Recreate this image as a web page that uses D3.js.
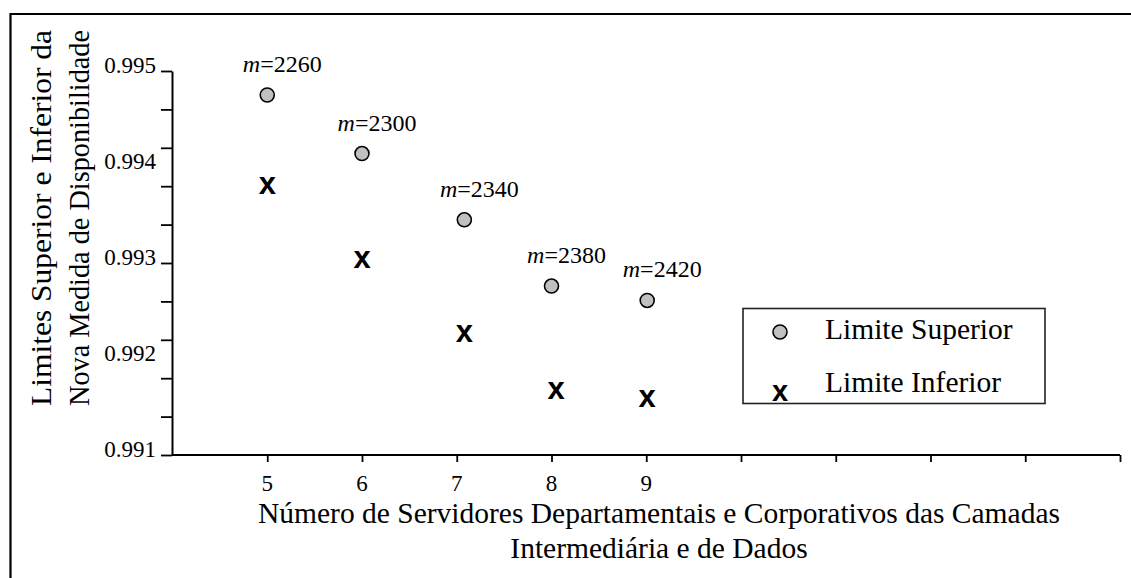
<!DOCTYPE html>
<html>
<head>
<meta charset="utf-8">
<script src="https://cdn.jsdelivr.net/npm/d3@7"></script>
<style>
  html, body { margin: 0; padding: 0; background: #fff; }
  svg { display: block; }
  text { font-family: "Liberation Serif", "Times New Roman", serif; fill: #000; }
</style>
</head>
<body>
<svg id="chart" width="1131" height="578"></svg>
<script>
// ---- data ----
const mLabels = ["2260", "2300", "2340", "2380", "2420"];
const supX = [5, 6, 7.08, 8, 9.01];
const supY = [0.99475, 0.99414, 0.99345, 0.99276, 0.99261];
const infX = [5, 6, 7.08, 8.05, 9.01];
const infY = [0.99381, 0.99304, 0.99227, 0.99167, 0.99159];
const xTickValues = [5, 6, 7, 8, 9, 10, 11, 12, 13, 14];
const xTickLabels = ["5", "6", "7", "8", "9"];
const yTickLabels = ["0.991", "0.992", "0.993", "0.994", "0.995"];
const seriesNames = ["Limite Superior", "Limite Inferior"];
const xTitle = ["Número de Servidores Departamentais e Corporativos das Camadas", "Intermediária e de Dados"];
const yTitle = ["Limites Superior e Inferior da", "Nova Medida de Disponibilidade"];

// ---- layout ----
const SERIF = "'Liberation Serif', 'Times New Roman', serif";
const SANS = "'Liberation Sans', Arial, sans-serif";
const svg = d3.select("#chart");
const x = d3.scaleLinear().domain([4, 14]).range([172.5, 1120]);
const y = d3.scaleLinear().domain([0.991, 0.995]).range([455, 71]);

// outer frame (left + top only)
svg.append("path")
  .attr("d", "M10.5,578 L10.5,14 L1131,14")
  .attr("fill", "none").attr("stroke", "#000").attr("stroke-width", 2.2);

// y axis
const yMinor = d3.range(11).map(i => 0.991 + i * 0.0004);
const yAxis = d3.axisLeft(y).tickValues(yMinor).tickSize(11).tickSizeOuter(0).tickFormat("");
const gy = svg.append("g").attr("transform", "translate(172,0)").call(yAxis);
gy.select(".domain").attr("stroke", "#000").attr("stroke-width", 2);
gy.selectAll(".tick line").attr("stroke", "#000").attr("stroke-width", 1.8);

svg.append("g").selectAll("text").data(yTickLabels).join("text")
  .attr("x", 156).attr("y", d => y(+d) + 1.5)
  .attr("text-anchor", "end")
  .style("font-family", SERIF)
  .style("font-size", "23px")
  .text(d => d);

// x axis
const xAxis = d3.axisBottom(x).tickValues(xTickValues).tickSize(7).tickSizeOuter(0).tickFormat("");
const gx = svg.append("g").attr("transform", "translate(0,455)").call(xAxis);
gx.select(".domain").attr("stroke", "#000").attr("stroke-width", 2)
  .attr("d", `M172,0H${x.range()[1]}`);
gx.selectAll(".tick line").attr("stroke", "#000").attr("stroke-width", 1.8);

svg.append("g").selectAll("text").data(xTickLabels).join("text")
  .attr("x", d => x(+d)).attr("y", 491)
  .attr("text-anchor", "middle")
  .style("font-family", SERIF)
  .style("font-size", "23px")
  .text(d => d);

// axis titles
svg.append("g").selectAll("text").data(xTitle).join("text")
  .attr("x", 659).attr("y", (d, i) => 523 + i * 35)
  .attr("text-anchor", "middle")
  .style("font-family", SERIF)
  .style("font-size", "29.5px")
  .text(d => d);

svg.append("g").selectAll("text").data(yTitle).join("text")
  .attr("transform", (d, i) => `translate(${51 + i * 38},218) rotate(-90)`)
  .attr("text-anchor", "middle")
  .attr("textLength", 376)
  .attr("lengthAdjust", "spacingAndGlyphs")
  .style("font-family", SERIF)
  .style("font-size", "30px")
  .text(d => d);

// upper limit points
const sup = supX.map((v, i) => ({ x: v, y: supY[i], m: mLabels[i] }));
const inf = infX.map((v, i) => ({ x: v, y: infY[i] }));

svg.append("g").selectAll("circle").data(sup).join("circle")
  .attr("cx", d => x(d.x)).attr("cy", d => y(d.y)).attr("r", 7)
  .attr("fill", "#c0c0c0").attr("stroke", "#000").attr("stroke-width", 1.6);

// m labels
const ml = svg.append("g").selectAll("text").data(sup).join("text")
  .attr("x", d => x(d.x) + 15).attr("y", d => y(d.y) - 23)
  .attr("text-anchor", "middle")
  .style("font-family", SERIF)
  .style("font-size", "24px");
ml.append("tspan").style("font-style", "italic").text("m");
ml.append("tspan").text(d => "=" + d.m);

// lower limit points
svg.append("g").selectAll("text").data(inf).join("text")
  .attr("x", d => x(d.x)).attr("y", d => y(d.y) + 8.5)
  .attr("text-anchor", "middle")
  .style("font-family", SANS)
  .style("font-weight", "bold")
  .style("font-size", "31px")
  .text("x");

// legend
const lg = svg.append("g");
lg.append("rect").attr("x", 743).attr("y", 308.5).attr("width", 302).attr("height", 95)
  .attr("fill", "#fff").attr("stroke", "#222").attr("stroke-width", 1.6);
lg.append("circle").attr("cx", 780).attr("cy", 332).attr("r", 7)
  .attr("fill", "#c0c0c0").attr("stroke", "#000").attr("stroke-width", 1.6);
lg.append("text").attr("x", 780).attr("y", 401).attr("text-anchor", "middle")
  .style("font-family", SANS)
  .style("font-weight", "bold").style("font-size", "29px").text("x");
lg.selectAll("text.lbl").data(seriesNames).join("text").attr("class", "lbl")
  .attr("x", 825).attr("y", (d, i) => 339 + i * 53)
  .style("font-family", SERIF)
  .style("font-size", "29.5px")
  .text(d => d);
</script>
</body>
</html>
